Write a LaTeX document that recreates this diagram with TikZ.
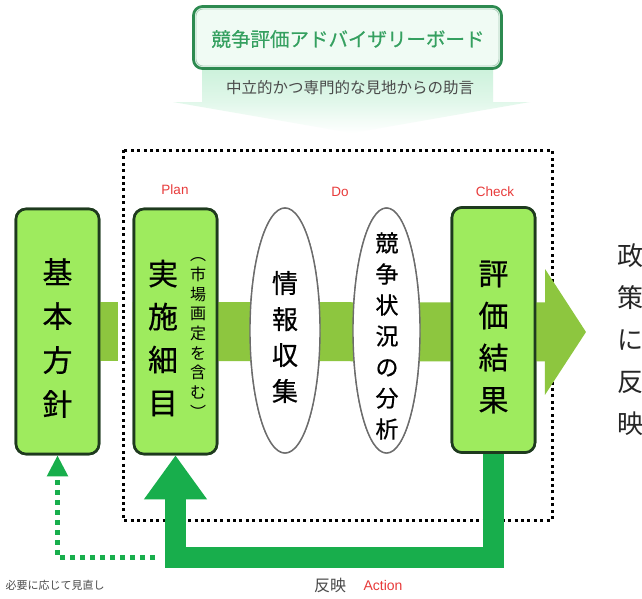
\documentclass[tikz,border=0pt]{standalone}
\usepackage{fontspec}
\setmainfont{Noto Sans CJK JP}
\newfontfamily\heavycjk[FakeBold=0.6]{Noto Sans CJK JP}
\newfontfamily\latinfont{Liberation Sans}
\usetikzlibrary{arrows.meta,shapes.geometric}
\definecolor{boxfill}{HTML}{9EEB5E}
\definecolor{boxline}{HTML}{1E3A1E}
\definecolor{bandc}{HTML}{8DC63F}
\definecolor{retc}{HTML}{18AE4C}
\definecolor{boardline}{HTML}{2D8A50}
\definecolor{boardfill}{HTML}{F0FBF4}
\definecolor{boardtext}{HTML}{35A060}
\definecolor{mintc}{HTML}{CDF2DC}
\definecolor{labred}{HTML}{E83A3A}
\definecolor{graytext}{HTML}{4A4A4A}
\tikzset{
  stagebox/.style={draw=boxline,line width=2.6pt,fill=boxfill,rounded corners=10pt,minimum width=83pt,minimum height=245pt,inner sep=0pt},
  stageoval/.style={ellipse,draw=gray!85!black,line width=1.4pt,fill=white,inner sep=0pt},
  vtext/.style={align=center,inner sep=0pt,text=black},
  band/.style={line width=59pt,draw=bandc},
  redlab/.style={font=\latinfont\fontsize{13.5}{15}\selectfont,text=labred,inner sep=0pt},
}
\begin{document}
\begin{tikzpicture}[x=1pt,y=-1pt]
\useasboundingbox[fill=white] (0,0) rectangle (642,598);
% advice arrow
\shade[top color=mintc,bottom color=white,middle color=mintc!60!white]
  (202,70) -- (493,70) -- (493,102) -- (530,102) -- (352,133) -- (173,102) -- (202,102) -- cycle;
\node[draw=boardline,line width=2.8pt,fill=boardfill,rounded corners=9pt,minimum width=308pt,minimum height=62pt,inner sep=0pt] (board) at (347.5,37.5) {};
\draw[boardline!40!white,line width=0.8pt,rounded corners=7pt] (196,9) rectangle (499,66);
\node[text=boardtext,font=\heavycjk\fontsize{19.5}{22}\selectfont,inner sep=0pt] (boardtxt) at (348,39) {競争評価アドバイザリーボード};
\node[text=graytext,font=\fontsize{15.5}{18}\selectfont,inner sep=0pt] (advice) at (350,88) {中立的かつ専門的な見地からの助言};
% dotted frame
\draw[line width=3pt,dash pattern=on 3pt off 3.4pt] (123,150) rectangle (552,520);
% stage nodes (positions)
\coordinate (bandend) at (586,332);
\path (57.5,331.5) node[stagebox] (basic) {}
      (175.5,331.5) node[stagebox] (plan) {}
      (285,330.5) node[stageoval,minimum width=70pt,minimum height=245pt] (info) {}
      (386.5,330.5) node[stageoval,minimum width=67pt,minimum height=245pt] (anal) {}
      (493.5,330) node[stagebox] (eval) {};
% main band
\draw[band] (basic.east) -- ++(18,0);
\draw[band,-{Triangle[length=41pt,width=124pt]}] (plan.west) -- (bandend);
% return arrow
\draw[line width=21pt,draw=retc,-{Triangle[length=44pt,width=60pt]}]
  (eval.south) -- (eval.south |- 0,557) -- (plan.south |- 0,557) -- (plan.south);
% dotted feedback arrow
\coordinate (fbstart) at (155,557);
\draw[line width=5pt,draw=retc,dash pattern=on 5pt off 5pt,-{Triangle[length=21pt,width=20pt]}]
  (fbstart) -- (basic.south |- fbstart) -- (basic.south);
% redraw nodes on top
\path (57.5,331.5) node[stagebox] (basic2) {}
      (175.5,331.5) node[stagebox] (plan2) {}
      (285,330.5) node[stageoval,minimum width=70pt,minimum height=245pt] (info2) {}
      (386.5,330.5) node[stageoval,minimum width=67pt,minimum height=245pt] (anal2) {}
      (493.5,330) node[stagebox] (eval2) {};
% texts
\node[vtext,font=\heavycjk\fontsize{30}{44}\selectfont] (tbasic) at (57.5,338) {基\\本\\方\\針};
\node[vtext,font=\heavycjk\fontsize{30}{43}\selectfont] (tplan) at (163,338) {実\\施\\細\\目};
\node[vtext,font=\fontsize{16}{19.7}\selectfont] (tplan2) at (198,338) {︵\\市\\場\\画\\定\\を\\含\\む\\︶};
\node[vtext,font=\heavycjk\fontsize{26}{36}\selectfont] (tinfo) at (285,337) {情\\報\\収\\集};
\node[vtext,font=\heavycjk\fontsize{23}{31}\selectfont] (tanal) at (387,336) {競\\争\\状\\況\\の\\分\\析};
\node[vtext,font=\heavycjk\fontsize{30}{42}\selectfont] (teval) at (493.5,337) {評\\価\\結\\果};
\node[vtext,font=\fontsize{26}{42}\selectfont,text=black!85] (tpolicy) at (630,340) {政\\策\\に\\反\\映};
% labels
\node[redlab] (lplan) at (175,190) {Plan};
\node[redlab] (ldo) at (340,192) {Do};
\node[redlab] (lcheck) at (495,192) {Check};
\node[text=graytext,font=\fontsize{16}{18}\selectfont,inner sep=0pt] (lrefl) at (330,585) {反映};
\node[redlab,font=\latinfont\fontsize{14}{16}\selectfont] (laction) at (383,585) {Action};
\node[text=graytext,font=\fontsize{11}{13}\selectfont,inner sep=0pt] (lreview) at (55,585) {必要に応じて見直し};
\end{tikzpicture}
\end{document}
